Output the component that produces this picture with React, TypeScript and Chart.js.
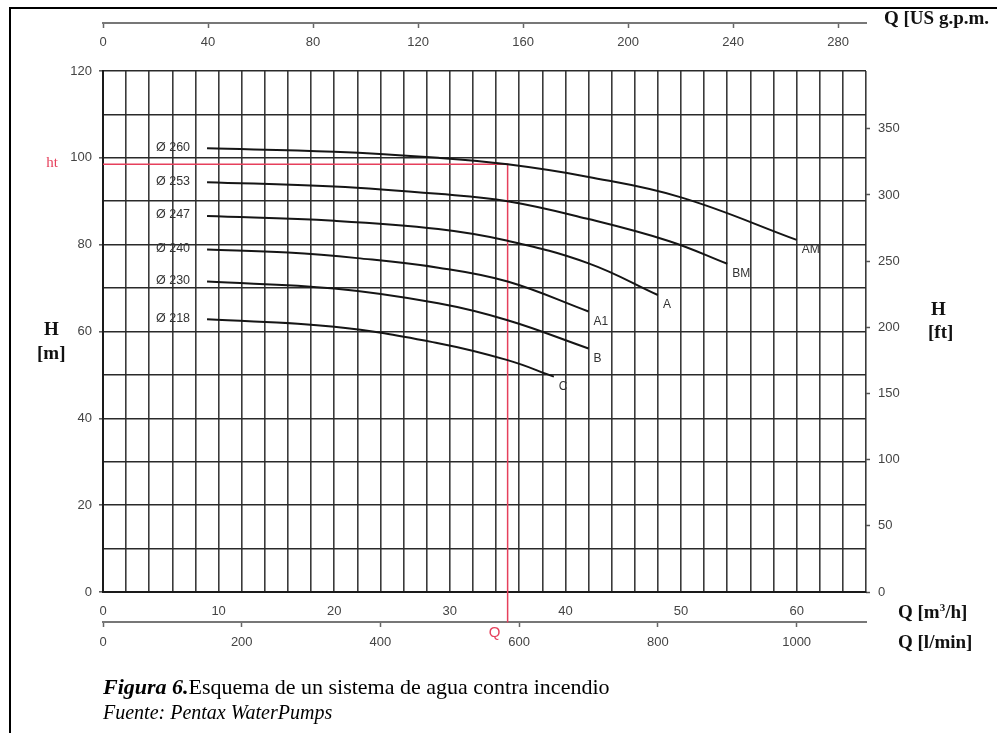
import { useEffect, useRef } from 'react';
import { Chart, registerables } from 'chart.js';

Chart.register(...registerables);

// ---- Data ----
// Flow in m³/h, head in m
const qAM = [9, 20, 29, 35, 42, 50, 60];
const hAM = [102.2, 101.4, 100.0, 98.5, 95.6, 90.9, 81.1];

const qBM = [9, 20, 29, 35, 42, 49, 54];
const hBM = [94.4, 93.4, 91.7, 90.0, 85.9, 80.8, 75.6];

const qA = [9, 20, 29, 35, 42, 48];
const hA = [86.6, 85.5, 83.6, 80.9, 75.7, 68.4];

const qA1 = [9, 16, 22, 29, 35, 42];
const hA1 = [78.9, 78.2, 76.9, 74.7, 71.5, 64.6];

const qB = [9, 20, 29, 35, 42];
const hB = [71.5, 69.9, 66.5, 62.6, 56.1];

const qC = [9, 20, 29, 35, 39];
const hC = [62.8, 61.1, 57.3, 53.4, 49.6];

const diameterLabels = ['Ø 260', 'Ø 253', 'Ø 247', 'Ø 240', 'Ø 230', 'Ø 218'];
const curveNames = ['AM', 'BM', 'A', 'A1', 'B', 'C'];

// Duty point (red guide lines)
const dutyQ = 35;
const dutyH = 98.5;
const dutyHeadLabel = 'ht';
const dutyFlowLabel = 'Q';

// Axes
const qMax = 66; // m³/h
const hMax = 120; // m
const M3H_TO_GPM = 4.40287;
const M3H_TO_LMIN = 16.6667;
const M_TO_FT = 3.28084;
const gpmStep = 40;
const lminStep = 200;
const ftStep = 50;
const qLabelEvery = 10;
const hLabelEvery = 20;

const curves = [
  { q: qAM, h: hAM },
  { q: qBM, h: hBM },
  { q: qA, h: hA },
  { q: qA1, h: hA1 },
  { q: qB, h: hB },
  { q: qC, h: hC },
].map((c, i) => ({ ...c, diameter: diameterLabels[i], name: curveNames[i] }));

const SANS = '"Liberation Sans", Arial, Helvetica, sans-serif';
const SERIF = '"Liberation Serif", "Times New Roman", Times, serif';
const RED = '#e6405c';
const TICK_COLOR = '#444';

const labelPlugin = {
  id: 'curveLabels',
  afterDatasetsDraw(chart: any) {
    const { ctx, scales } = chart;
    const xs = scales.x;
    const ys = scales.y;
    ctx.save();
    ctx.fillStyle = '#333';
    ctx.textBaseline = 'middle';
    curves.forEach((c) => {
      const x0 = xs.getPixelForValue(c.q[0]);
      const y0 = ys.getPixelForValue(c.h[0]);
      ctx.font = `12.5px ${SANS}`;
      ctx.textAlign = 'right';
      ctx.fillText(c.diameter, x0 - 17, y0 - 1);
      const n = c.q.length - 1;
      const x1 = xs.getPixelForValue(c.q[n]);
      const y1 = ys.getPixelForValue(c.h[n]);
      ctx.font = `12px ${SANS}`;
      ctx.textAlign = 'left';
      ctx.fillText(c.name, x1 + 5, y1 + 10);
    });
    ctx.fillStyle = RED;
    ctx.font = `15px ${SERIF}`;
    ctx.textAlign = 'right';
    ctx.fillText(dutyHeadLabel, xs.left - 45, ys.getPixelForValue(dutyH) - 1);
    ctx.font = `15px ${SANS}`;
    ctx.textAlign = 'center';
    ctx.fillText(dutyFlowLabel, xs.getPixelForValue(dutyQ) - 13, ys.getPixelForValue(-9.45));
    ctx.restore();
  },
};

const plain = (v: any) => String(v);

export default function App() {
  const ref = useRef<HTMLCanvasElement>(null);

  useEffect(() => {
    if (!ref.current) return;
    const tickFont = { family: SANS, size: 13 };
    const datasets: any[] = curves.map((c) => ({
      label: c.diameter,
      data: c.q.map((q, i) => ({ x: q, y: c.h[i] })),
      borderColor: '#151515',
      borderWidth: 2,
      pointRadius: 0,
      tension: 0.4,
      fill: false,
      xAxisID: 'x',
      yAxisID: 'y',
    }));
    datasets.push({
      label: 'duty',
      data: [
        { x: 0, y: dutyH },
        { x: dutyQ, y: dutyH },
        { x: dutyQ, y: -7 },
      ],
      borderColor: RED,
      borderWidth: 1.5,
      pointRadius: 0,
      tension: 0,
      fill: false,
      clip: false,
      xAxisID: 'x',
      yAxisID: 'y',
    });

    const chart = new Chart(ref.current, {
      type: 'line',
      data: { datasets },
      plugins: [labelPlugin],
      options: {
        responsive: false,
        maintainAspectRatio: false,
        devicePixelRatio: 1,
        animation: false,
        events: [],
        layout: { padding: { top: 71, left: 0, right: 0, bottom: 0 } },
        plugins: { legend: { display: false }, tooltip: { enabled: false } },
        scales: {
          x: {
            type: 'linear',
            position: 'bottom',
            min: 0,
            max: qMax,
            afterFit: (s: any) => {
              s.height = 141;
            },
            ticks: {
              stepSize: 2,
              autoSkip: false,
              maxRotation: 0,
              padding: 12,
              color: TICK_COLOR,
              font: tickFont,
              callback: (v: any) => (Number(v) % qLabelEvery === 0 ? String(v) : ''),
            },
            grid: { color: '#3a3a3a', lineWidth: 1.6, drawTicks: false },
            border: { display: true, color: '#1a1a1a', width: 2 },
          },
          y: {
            type: 'linear',
            position: 'left',
            min: 0,
            max: hMax,
            afterFit: (s: any) => {
              s.width = 103;
            },
            ticks: {
              stepSize: 10,
              autoSkip: false,
              padding: 7,
              color: TICK_COLOR,
              font: tickFont,
              callback: (v: any) => (Number(v) % hLabelEvery === 0 ? String(v) : ''),
            },
            grid: {
              color: '#2a2a2a',
              lineWidth: 1.6,
              tickLength: 4,
              tickColor: (ctx: any) =>
                ctx.tick && ctx.tick.value % hLabelEvery === 0 ? '#555' : 'rgba(0,0,0,0)',
              tickWidth: 1.5,
            },
            border: { display: true, color: '#1a1a1a', width: 2 },
          },
          yft: {
            type: 'linear',
            position: 'right',
            min: 0,
            max: hMax * M_TO_FT,
            afterFit: (s: any) => {
              s.width = 131;
            },
            ticks: {
              stepSize: ftStep,
              includeBounds: false,
              autoSkip: false,
              padding: 8,
              color: TICK_COLOR,
              font: tickFont,
              callback: plain,
            },
            grid: { drawOnChartArea: false, tickLength: 4, tickColor: '#555', tickWidth: 1.5 },
            border: { display: false },
          },
          xgpm: {
            type: 'linear',
            axis: 'x',
            position: { y: 131.1 } as any,
            min: 0,
            max: qMax * M3H_TO_GPM,
            ticks: {
              stepSize: gpmStep,
              includeBounds: false,
              autoSkip: false,
              maxRotation: 0,
              padding: 8,
              color: TICK_COLOR,
              font: tickFont,
              callback: plain,
            },
            grid: { drawOnChartArea: false, tickLength: 4, tickColor: '#666', tickWidth: 1.5 },
            border: { display: true, color: '#777', width: 2 },
          },
          xlmin: {
            type: 'linear',
            axis: 'x',
            position: { y: -7.0 } as any,
            min: 0,
            max: qMax * M3H_TO_LMIN,
            ticks: {
              stepSize: lminStep,
              includeBounds: false,
              autoSkip: false,
              maxRotation: 0,
              padding: 8,
              color: TICK_COLOR,
              font: tickFont,
              callback: plain,
            },
            grid: { drawOnChartArea: false, tickLength: 4, tickColor: '#666', tickWidth: 1.5 },
            border: { display: true, color: '#777', width: 2 },
          },
        } as any,
      },
    });
    return () => chart.destroy();
  }, []);

  const unitStyle: any = {
    position: 'absolute',
    fontFamily: SERIF,
    fontWeight: 'bold',
    fontSize: 19,
    lineHeight: 1,
    whiteSpace: 'nowrap',
    color: '#111',
    transform: 'translateY(-50%)',
  };

  return (
    <div
      style={{
        position: 'absolute',
        left: 0,
        top: 0,
        width: 997,
        height: 733,
        background: '#fff',
        overflow: 'hidden',
      }}
    >
      <canvas
        ref={ref}
        width={997}
        height={733}
        style={{ position: 'absolute', left: 0, top: 0, width: 997, height: 733 }}
      />
      <div
        style={{
          position: 'absolute',
          left: 9,
          top: 7,
          width: 1100,
          height: 900,
          borderTop: '2px solid #000',
          borderLeft: '2px solid #000',
          pointerEvents: 'none',
        }}
      />
      <div style={{ ...unitStyle, left: 884, top: 17 }}>Q [US g.p.m.</div>
      <div style={{ ...unitStyle, left: 44, top: 328 }}>H</div>
      <div style={{ ...unitStyle, left: 37, top: 352 }}>[m]</div>
      <div style={{ ...unitStyle, left: 931, top: 308 }}>H</div>
      <div style={{ ...unitStyle, left: 928, top: 331 }}>[ft]</div>
      <div style={{ ...unitStyle, left: 898, top: 611 }}>
        Q [m<sup style={{ fontSize: 11, verticalAlign: 'top', lineHeight: 1 }}>3</sup>/h]
      </div>
      <div style={{ ...unitStyle, left: 898, top: 641 }}>Q [l/min]</div>
      <div
        style={{
          position: 'absolute',
          left: 103,
          top: 687,
          transform: 'translateY(-50%)',
          fontFamily: SERIF,
          fontSize: 22,
          lineHeight: 1,
          whiteSpace: 'nowrap',
          color: '#000',
        }}
      >
        <b>
          <i>Figura 6.</i>
        </b>
        Esquema de un sistema de agua contra incendio
      </div>
      <div
        style={{
          position: 'absolute',
          left: 103,
          top: 712,
          transform: 'translateY(-50%)',
          fontFamily: SERIF,
          fontStyle: 'italic',
          fontSize: 20,
          lineHeight: 1,
          whiteSpace: 'nowrap',
          color: '#000',
        }}
      >
        Fuente: Pentax WaterPumps
      </div>
    </div>
  );
}
